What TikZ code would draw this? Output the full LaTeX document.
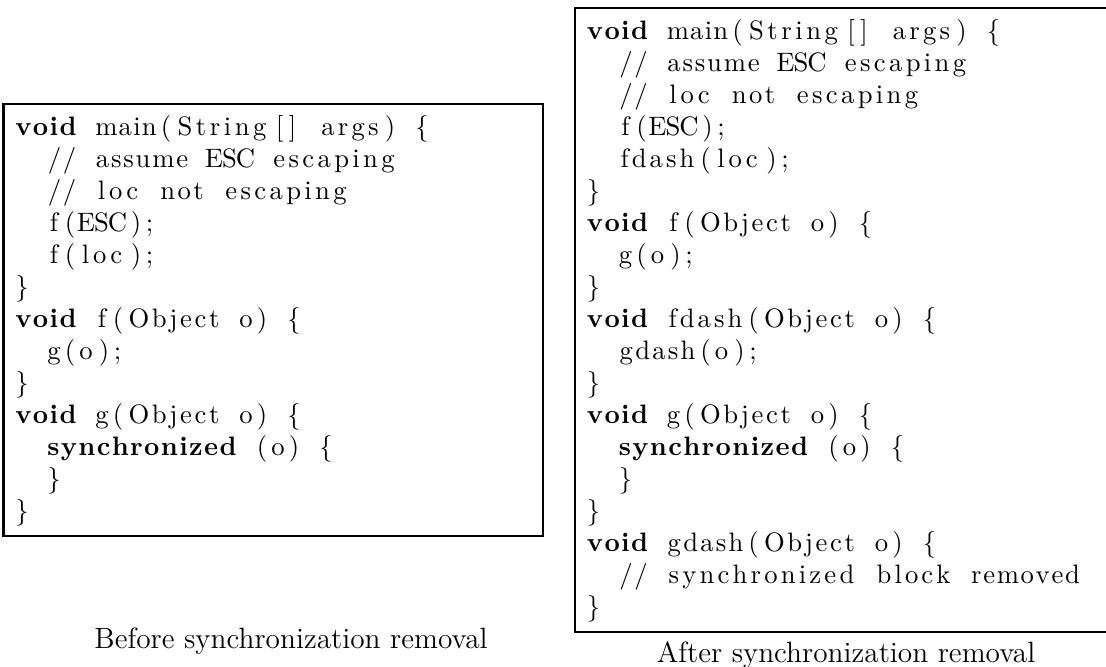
\documentclass[tikz,border=0pt]{standalone}
\usepackage{fontspec}

% Fixed-column code setting in the manner of listings (columns=fixed):
% a run of letters/digits, or a run of other characters, fills one box of
% n cells of 6pt, with equal stretch around each character.
% "<" and ">" stand for the braces, "_" for a blank column.
\ExplSyntaxOn
\dim_new:N \l_cell_dim
\dim_set:Nn \l_cell_dim { 6pt }
\tl_new:N \l__cell_tok_tl
\int_new:N \l__cell_n_int
\int_new:N \l__cell_cls_int
\int_new:N \l__cell_code_int
\cs_new_protected:Npn \__cell_flush:
  {
    \int_compare:nNnT { \l__cell_n_int } > { 0 }
      {
        \hbox_to_wd:nn { \l_cell_dim * \l__cell_n_int } { \hss \l__cell_tok_tl }
      }
    \tl_clear:N \l__cell_tok_tl
    \int_zero:N \l__cell_n_int
    \int_zero:N \l__cell_cls_int
  }
\cs_new_protected:Npn \__cell_add:nn #1#2
  {
    \int_compare:nNnF { #1 } = { \l__cell_cls_int } { \__cell_flush: }
    \int_set:Nn \l__cell_cls_int { #1 }
    \tl_put_right:Nn \l__cell_tok_tl { #2 \hss }
    \int_incr:N \l__cell_n_int
  }
\NewDocumentCommand \cols { m }
  {
    \__cell_flush:
    \str_map_inline:nn { #1 }
      {
        \str_case:nnF { ##1 }
          {
            { _ } { \__cell_flush: \hbox_to_wd:nn { \l_cell_dim } { } }
            { < } { \__cell_add:nn { 2 } { \{ } }
            { > } { \__cell_add:nn { 2 } { \} } }
          }
          {
            \int_set:Nn \l__cell_code_int { `##1 }
            \bool_if:nTF
              {
                ( \int_compare_p:nNn { \l__cell_code_int } > { 96 } &&
                  \int_compare_p:nNn { \l__cell_code_int } < { 123 } ) ||
                ( \int_compare_p:nNn { \l__cell_code_int } > { 64 } &&
                  \int_compare_p:nNn { \l__cell_code_int } < { 91 } ) ||
                ( \int_compare_p:nNn { \l__cell_code_int } > { 47 } &&
                  \int_compare_p:nNn { \l__cell_code_int } < { 58 } )
              }
              { \__cell_add:nn { 1 } { ##1 } }
              { \__cell_add:nn { 2 } { ##1 } }
          }
      }
    \__cell_flush:
  }
\NewDocumentCommand \bcols { m } { { \bfseries \cols { #1 } } }
\ExplSyntaxOff

\newcommand\codefont{\fontsize{10}{12}\selectfont}
\newcommand\capfont{\fontsize{11}{13.6}\selectfont}

\tikzset{
  codebox/.style={draw=black, line width=1pt},
  codeline/.style={anchor=base west, inner sep=0pt, font=\codefont},
  caption/.style={anchor=base, inner sep=0pt, font=\capfont}
}

\begin{document}
\begin{tikzpicture}[x=0.375pt, y=-0.375pt]
  \useasboundingbox (0,0) rectangle (1106,666);

  % frames
  \draw[codebox] (3.5,104) rectangle (543,536);
  \draw[codebox] (575,8) rectangle (1117,632);

  % program before the transformation
  \node[codeline] (b1)  at (13.5,135) {\bcols{void}\cols{_main(String[]_args)_<}};
  \node[codeline] (b2)  at (13.5,167) {\cols{__//_assume_ESC_escaping}};
  \node[codeline] (b3)  at (13.5,199) {\cols{__//_loc_not_escaping}};
  \node[codeline] (b4)  at (13.5,231) {\cols{__f(ESC);}};
  \node[codeline] (b5)  at (13.5,263) {\cols{__f(loc);}};
  \node[codeline] (b6)  at (13.5,295) {\cols{>}};
  \node[codeline] (b7)  at (13.5,327) {\bcols{void}\cols{_f(Object_o)_<}};
  \node[codeline] (b8)  at (13.5,359) {\cols{__g(o);}};
  \node[codeline] (b9)  at (13.5,391) {\cols{>}};
  \node[codeline] (b10) at (13.5,423) {\bcols{void}\cols{_g(Object_o)_<}};
  \node[codeline] (b11) at (13.5,455) {\cols{__}\bcols{synchronized}\cols{_(o)_<}};
  \node[codeline] (b12) at (13.5,487) {\cols{__>}};
  \node[codeline] (b13) at (13.5,519) {\cols{>}};

  % program after the transformation
  \node[codeline] (a1)  at (585,39)  {\bcols{void}\cols{_main(String[]_args)_<}};
  \node[codeline] (a2)  at (585,71)  {\cols{__//_assume_ESC_escaping}};
  \node[codeline] (a3)  at (585,103) {\cols{__//_loc_not_escaping}};
  \node[codeline] (a4)  at (585,135) {\cols{__f(ESC);}};
  \node[codeline] (a5)  at (585,167) {\cols{__fdash(loc);}};
  \node[codeline] (a6)  at (585,199) {\cols{>}};
  \node[codeline] (a7)  at (585,231) {\bcols{void}\cols{_f(Object_o)_<}};
  \node[codeline] (a8)  at (585,263) {\cols{__g(o);}};
  \node[codeline] (a9)  at (585,295) {\cols{>}};
  \node[codeline] (a10) at (585,327) {\bcols{void}\cols{_fdash(Object_o)_<}};
  \node[codeline] (a11) at (585,359) {\cols{__gdash(o);}};
  \node[codeline] (a12) at (585,391) {\cols{>}};
  \node[codeline] (a13) at (585,423) {\bcols{void}\cols{_g(Object_o)_<}};
  \node[codeline] (a14) at (585,455) {\cols{__}\bcols{synchronized}\cols{_(o)_<}};
  \node[codeline] (a15) at (585,487) {\cols{__>}};
  \node[codeline] (a16) at (585,519) {\cols{>}};
  \node[codeline] (a17) at (585,551) {\bcols{void}\cols{_gdash(Object_o)_<}};
  \node[codeline] (a18) at (585,583) {\cols{__//_synchronized_block_removed}};
  \node[codeline] (a19) at (585,615) {\cols{>}};

  % captions
  \node[caption] (capBefore) at (291,648) {Before synchronization removal};
  \node[caption] (capAfter)  at (846,662) {After synchronization removal};
\end{tikzpicture}
\end{document}
